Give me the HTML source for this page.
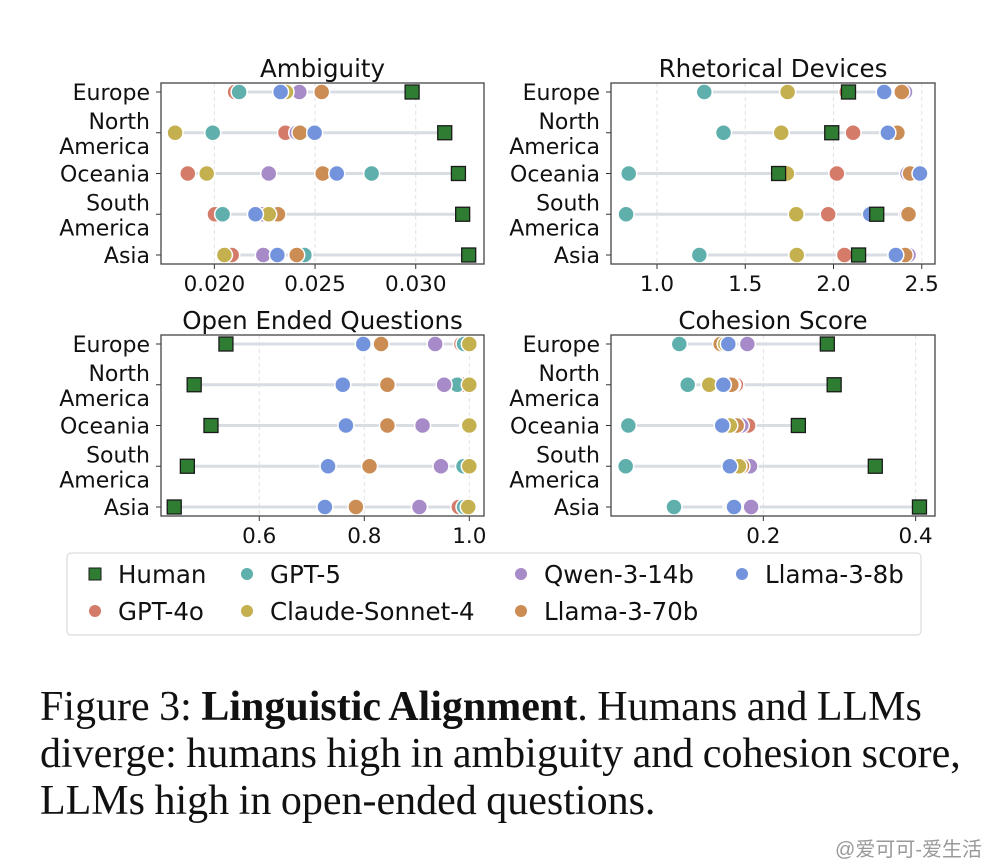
<!DOCTYPE html>
<html><head><meta charset="utf-8"><style>
body{margin:0;background:#fff;width:996px;height:868px;overflow:hidden;position:relative;font-family:"Liberation Sans","DejaVu Sans",sans-serif}
.cap{position:absolute;left:40px;top:684px;font-family:"Liberation Serif",serif;font-size:42px;line-height:47px;color:#111;width:960px;word-spacing:-1px;white-space:nowrap}
.wm{position:absolute;right:14px;top:833px;font-size:20px;color:#999;font-family:"Liberation Sans","Noto Sans CJK SC",sans-serif}
</style></head><body>
<svg id="chart" width="996" height="868" style="position:absolute;left:0;top:0" font-family="DejaVu Sans, Liberation Sans, sans-serif"></svg>
<div class="cap">Figure 3: <b>Linguistic Alignment</b>. Humans and LLMs<br>diverge: humans high in ambiguity and cohesion score,<br>LLMs high in open-ended questions.</div>
<div class="wm">@爱可可-爱生活</div>
<script>
const regions = ["Europe","North America","Oceania","South America","Asia"];
const models = ["GPT-4o","GPT-5","Qwen-3-14b","Llama-3-70b","Claude-Sonnet-4","Llama-3-8b","Human"];
const colors = {"Human":"#2e7d32","GPT-5":"#5fafad","GPT-4o":"#d47b6a","Claude-Sonnet-4":"#c4b04e","Qwen-3-14b":"#a68bc8","Llama-3-70b":"#cc8d55","Llama-3-8b":"#7394dd"};
// values per region: [Europe, North America, Oceania, South America, Asia]
const ambiguity = {
 "Human":[0.02982,0.03144,0.03212,0.03233,0.03263],
 "GPT-5":[0.02123,0.01992,0.02781,0.02041,0.02447],
 "GPT-4o":[0.02103,0.02353,0.01868,0.02003,0.02086],
 "Claude-Sonnet-4":[0.02356,0.01805,0.01962,0.0227,0.0205],
 "Qwen-3-14b":[0.02422,0.02409,0.0227,0.0224,0.02243],
 "Llama-3-70b":[0.02533,0.02425,0.02538,0.02316,0.02409],
 "Llama-3-8b":[0.02329,0.02498,0.02608,0.02204,0.02313]};
const rhetorical = {
 "Human":[2.085,1.99,1.689,2.245,2.142],
 "GPT-5":[1.268,1.377,0.84,0.825,1.24],
 "GPT-4o":[2.075,2.111,2.019,1.97,2.062],
 "Claude-Sonnet-4":[1.74,1.704,1.736,1.789,1.792],
 "Qwen-3-14b":[2.405,2.34,2.419,2.415,2.425],
 "Llama-3-70b":[2.387,2.362,2.434,2.425,2.406],
 "Llama-3-8b":[2.287,2.308,2.49,2.208,2.353]};
const openEnded = {
 "Human":[0.5365,0.476,0.508,0.463,0.438],
 "GPT-5":[0.99,0.977,0.998,0.989,0.99],
 "GPT-4o":[0.985,0.99,0.997,0.99,0.98],
 "Claude-Sonnet-4":[1.0,1.0,1.0,1.0,0.998],
 "Qwen-3-14b":[0.935,0.952,0.911,0.946,0.905],
 "Llama-3-70b":[0.832,0.844,0.844,0.81,0.784],
 "Llama-3-8b":[0.798,0.759,0.765,0.731,0.725]};
const cohesion = {
 "Human":[0.284,0.293,0.246,0.347,0.405],
 "GPT-5":[0.0897,0.1007,0.0228,0.0193,0.0827],
 "GPT-4o":[0.147,0.164,0.180,0.17,0.158],
 "Claude-Sonnet-4":[0.15,0.129,0.156,0.168,0.162],
 "Qwen-3-14b":[0.179,0.16,0.171,0.1825,0.184],
 "Llama-3-70b":[0.144,0.158,0.165,0.172,0.16],
 "Llama-3-8b":[0.154,0.1475,0.146,0.156,0.1615]};
const ambTicks=["0.020","0.025","0.030"], rhetTicks=["1.0","1.5","2.0","2.5"], openTicks=["0.6","0.8","1.0"], cohTicks=["0.2","0.4"];
const panels=[
 {title:"Ambiguity",name:"ambiguity-panel",data:ambiguity,ticks:ambTicks,x0:161,x1:484,y0:83,y1:264,dmin:0.01735,dmax:0.03339},
 {title:"Rhetorical Devices",name:"rhetorical-panel",data:rhetorical,ticks:rhetTicks,x0:611,x1:935,y0:83,y1:264,dmin:0.7395,dmax:2.575},
 {title:"Open Ended Questions",name:"open-ended-panel",data:openEnded,ticks:openTicks,x0:161,x1:484,y0:335,y1:516,dmin:0.4128,dmax:1.028},
 {title:"Cohesion Score",name:"cohesion-panel",data:cohesion,ticks:cohTicks,x0:611,x1:935,y0:335,y1:516,dmin:0.0,dmax:0.4254}];
const NS="http://www.w3.org/2000/svg";
const svg=document.getElementById('chart');
function mk(t,a,p){const e=document.createElementNS(NS,t);for(const k in a)e.setAttribute(k,a[k]);(p||svg).appendChild(e);return e;}
panels.forEach(P=>{
 const g=mk('g',{});
 
 
 const sx=v=>P.x0+(v-P.dmin)/(P.dmax-P.dmin)*(P.x1-P.x0);
 const rowY=i=>P.y0+9+i*(P.y1-P.y0-18)/4;
 const lx=P.x0-11;
 P.ticks.forEach(t=>{const x=sx(parseFloat(t));
  const gl=mk('line',{x1:x,x2:x,y1:P.y0,y2:P.y1,stroke:'#e2e2e2','stroke-dasharray':'4,3','stroke-width':1},g);
  
  mk('line',{x1:x,x2:x,y1:P.y1,y2:P.y1+5,stroke:'#333'},g);
  const tl=mk('text',{x:x,y:P.y1+27,'text-anchor':'middle','font-size':21.5,fill:'#111'},g);tl.textContent=t;
  });
 regions.forEach((r,i)=>{const y=rowY(i);
  mk('line',{x1:P.x0-5,x2:P.x0,y1:y,y2:y,stroke:'#333'},g);
  const parts=r.split(' ');
  if(parts.length===1){const t=mk('text',{x:lx,y:y+8,'text-anchor':'end','font-size':22,fill:'#111'},g);t.textContent=r;}
  else{[0,1].forEach(k=>{const t=mk('text',{x:lx,y:y-4+k*25,'text-anchor':'end','font-size':22,fill:'#111'},g);t.textContent=parts[k];});}
  const vals=models.map(m=>P.data[m][i]);
  const ln=mk('line',{x1:sx(Math.min(...vals)),x2:sx(Math.max(...vals)),y1:y,y2:y,stroke:'#d8dce3','stroke-width':3},g);
  
  models.forEach(m=>{const x=sx(P.data[m][i]);let e;
   if(m==="Human"){e=mk('rect',{x:x-7,y:y-7,width:14,height:14,fill:colors[m],stroke:'#1a1a1a','stroke-width':1.3},g);}
   else{e=mk('circle',{cx:x,cy:y,r:8,fill:colors[m],stroke:'#fff','stroke-width':1.5},g);}
   
   });
 });
 mk('rect',{x:P.x0,y:P.y0,width:P.x1-P.x0,height:P.y1-P.y0,fill:'none',stroke:'#444','stroke-width':1.3},g);
 const tt=mk('text',{x:(P.x0+P.x1)/2,y:P.y0-6,'text-anchor':'middle','font-size':24.5,fill:'#111'},g);tt.textContent=P.title;
 
});
// legend
const lg=mk('g',{});


mk('rect',{x:67,y:553,width:854,height:82,rx:4,fill:'#fff',stroke:'#ddd','stroke-width':1.2},lg);
const legItems=[["Human",95,574],["GPT-5",247,574],["Qwen-3-14b",521,574],["Llama-3-8b",742,574],["GPT-4o",95,611],["Claude-Sonnet-4",247,611],["Llama-3-70b",521,611]];
legItems.forEach(([m,x,y])=>{const it=mk('g',{},lg);
 
 
 if(m==="Human")mk('rect',{x:x-6,y:y-6,width:12,height:12,fill:colors[m],stroke:'#1a1a1a','stroke-width':1},it);
 else mk('circle',{cx:x,cy:y,r:6,fill:colors[m]},it);
 const t=mk('text',{x:x+23,y:y+9,'font-size':24.5,fill:'#111'},it);t.textContent=m;});
</script>
</body></html>
